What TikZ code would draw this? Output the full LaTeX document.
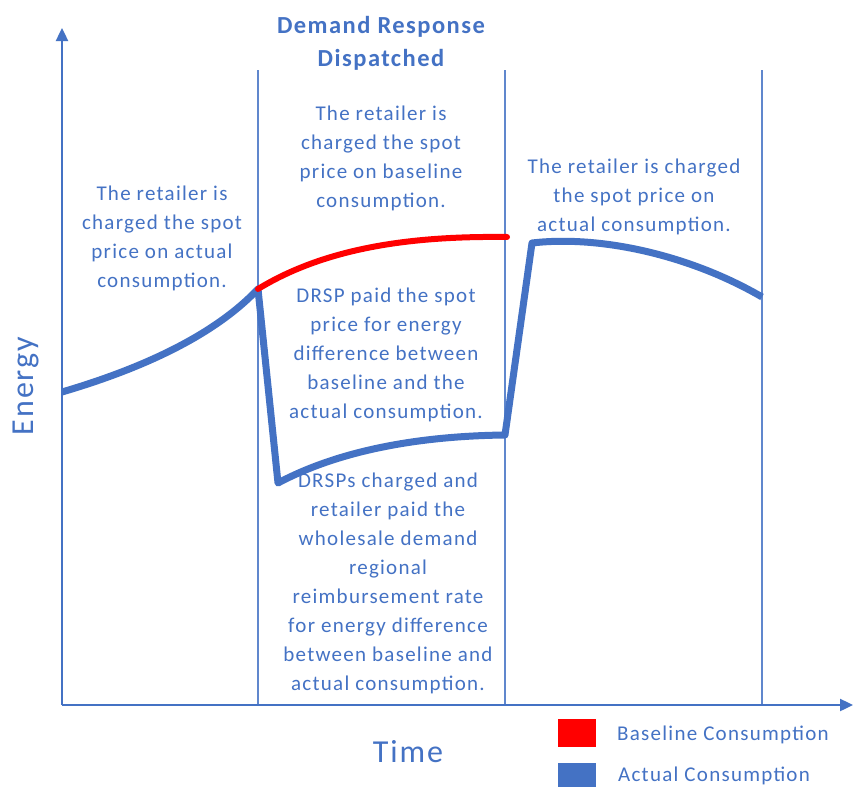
\documentclass[tikz,border=0pt]{standalone}
\usepackage{fontspec}
\setmainfont{Carlito}[LetterSpace=6]
\usetikzlibrary{arrows.meta}
\definecolor{dblue}{HTML}{4472C4}
\definecolor{lred}{HTML}{FF0000}
\begin{document}
\begin{tikzpicture}[x=1pt,y=-1pt,
  axisline/.style={draw=dblue, line width=2.4pt, -{Triangle[length=13pt,width=12pt]}},
  divider/.style={draw=dblue!85, line width=1.4pt},
  actual/.style={draw=dblue, line width=7pt, line join=round},
  baseline/.style={draw=lred, line width=6pt, line cap=round},
  lbl/.style={text=dblue, font=\fontsize{21}{29}\selectfont, align=center, inner sep=0pt},
  ttl/.style={text=dblue, font=\bfseries\fontsize{24.5}{33}\selectfont, align=center, inner sep=0pt},
  axlbl/.style={text=dblue, font=\fontsize{32}{36}\selectfont, inner sep=0pt},
  leg/.style={text=dblue, font=\fontsize{21}{25}\selectfont, anchor=west, inner sep=0pt}]
\useasboundingbox (0,0) rectangle (855,787);
\fill[white] (0,0) rectangle (855,787);
% axes
\coordinate (O) at (62,705);
\coordinate (Ytip) at (62,28);
\coordinate (Xtip) at (853,705);
% dividers
\coordinate (d1t) at (258,70); \coordinate (d1b) at (258,705);
\coordinate (d2t) at (505,70); \coordinate (d2b) at (505,705);
\coordinate (d3t) at (762,70); \coordinate (d3b) at (762,705);
\draw[divider] (d1t) -- (d1b);
\draw[divider] (d2t) -- (d2b);
\draw[divider] (d3t) -- (d3b);
\draw[axisline] (O) -- (Ytip);
\draw[axisline] (O) -- (Xtip);
% curve points
\coordinate (a0) at (62,392);
\coordinate (a1) at (258,289);
\coordinate (a2) at (278,483);
\coordinate (a3) at (505,435);
\coordinate (a4) at (532,243);
\coordinate (a5) at (762,297);
\coordinate (b1) at (507,237);
\draw[actual] (a0) .. controls (130,372) and (210,340) .. (a1)
  -- (a2) .. controls (340,450) and (420,436) .. (a3)
  -- (a4) .. controls (600,235) and (690,255) .. (a5);
\draw[baseline] (a1) .. controls (330,245) and (420,236) .. (b1);
% texts
\node[ttl] (title) at (381,43) {Demand Response\\Dispatched};
\node[lbl] (tleft) at (162,238) {The retailer is\\charged the spot\\price on actual\\consumption.};
\node[lbl] (tmid) at (381,158) {The retailer is\\charged the spot\\price on baseline\\consumption.};
\node[lbl] (tright) at (634,197) {The retailer is charged\\the spot price on\\actual consumption.};
\node[lbl] (tdrsp) at (386,355) {DRSP paid the spot\\price for energy\\difference between\\baseline and the\\actual consumption.};
\node[lbl] (tdrsps) at (388,583) {DRSPs charged and\\retailer paid the\\wholesale demand\\regional\\reimbursement rate\\for energy difference\\between baseline and\\actual consumption.};
\node[axlbl, rotate=90] (energy) at (26,386) {Energy};
\node[axlbl] (time) at (408,752) {Time};
% legend
\fill[lred] (558,719) rectangle (596,747);
\fill[dblue] (558,763) rectangle (596,790);
\node[leg] (lb) at (617,735) {Baseline Consumption};
\node[leg] (la) at (618,776) {Actual Consumption};
\end{tikzpicture}
\end{document}
